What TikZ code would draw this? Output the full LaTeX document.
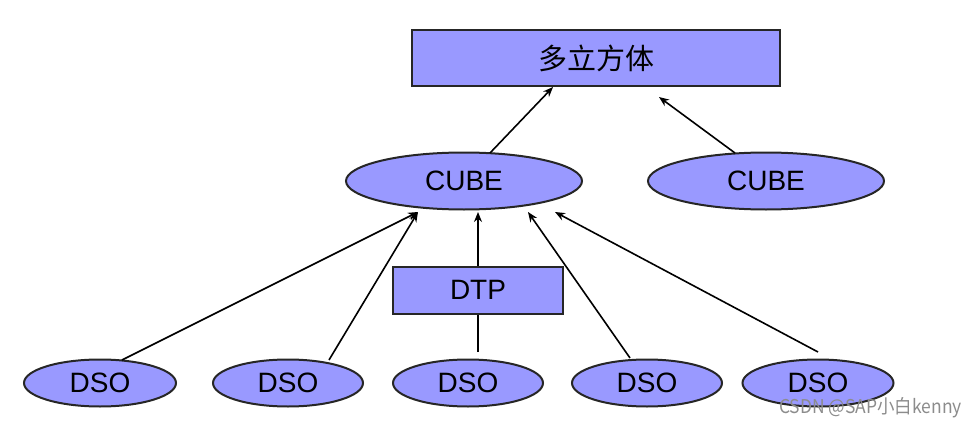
\documentclass[tikz,border=0pt]{standalone}
\usepackage{fontspec}
\setmainfont{Liberation Sans}
\newfontfamily\cjk{Noto Sans CJK SC}
\usetikzlibrary{shapes.geometric,arrows.meta}
\definecolor{lav}{RGB}{153,153,255}
\begin{document}
\begin{tikzpicture}[x=1pt,y=-1pt,
  boxnode/.style={draw=black!85,line width=2pt,fill=lav,inner sep=0pt,font=\fontsize{28}{30}\selectfont},
  ellnode/.style={ellipse,draw=black!85,line width=2pt,fill=lav,inner sep=0pt,font=\fontsize{28}{30}\selectfont},
  arr/.style={-{Stealth[length=10pt,width=8pt]},line width=1.6pt},
  ln/.style={line width=1.6pt}]
\useasboundingbox (0,0) rectangle (978,428);
\node[boxnode,minimum width=368pt,minimum height=56pt] (top) at (596,58) {\cjk\fontsize{29}{30}\selectfont 多立方体};
\node[ellnode,minimum width=236pt,minimum height=57pt] (c1) at (464,181) {CUBE};
\node[ellnode,minimum width=236pt,minimum height=57pt] (c2) at (766,181) {CUBE};
\node[boxnode,minimum width=170pt,minimum height=47pt] (dtp) at (478,290) {DTP};
\node[ellnode,minimum width=152pt,minimum height=47pt] (d1) at (100,383) {DSO};
\node[ellnode,minimum width=150pt,minimum height=47pt] (d2) at (288,383) {DSO};
\node[ellnode,minimum width=150pt,minimum height=47pt] (d3) at (468,383) {DSO};
\node[ellnode,minimum width=150pt,minimum height=47pt] (d4) at (647,383) {DSO};
\node[ellnode,minimum width=151pt,minimum height=47pt] (d5) at (818,383) {DSO};
\coordinate (t1) at (553,87);
\coordinate (t2) at (659,97);
\coordinate (c2s) at (735,153);
\coordinate (c1s) at (490,153);
\coordinate (p1) at (418,212);
\coordinate (p3) at (478,212);
\coordinate (p4) at (528,212);
\coordinate (p5) at (555,212);
\coordinate (d1s) at (122,360);
\coordinate (d2s) at (329,360);
\coordinate (d3s) at (478,352);
\coordinate (d4s) at (630,358);
\coordinate (d5s) at (818,352);
\draw[arr] (c1s) -- (t1);
\draw[arr] (c2s) -- (t2);
\draw[arr] (d1s) -- (p1);
\draw[arr] (d2s) -- (p1);
\draw[arr] (dtp.north -| p3) -- (p3);
\draw[ln] (d3s) -- (dtp.south -| d3s);
\draw[arr] (d4s) -- (p4);
\draw[arr] (d5s) -- (p5);
\node[anchor=east,text=black!45,font=\cjk\fontsize{19}{20}\selectfont,inner sep=0pt,xscale=0.92] (wm) at (962,408) {CSDN @SAP小白kenny};
\end{tikzpicture}
\end{document}
